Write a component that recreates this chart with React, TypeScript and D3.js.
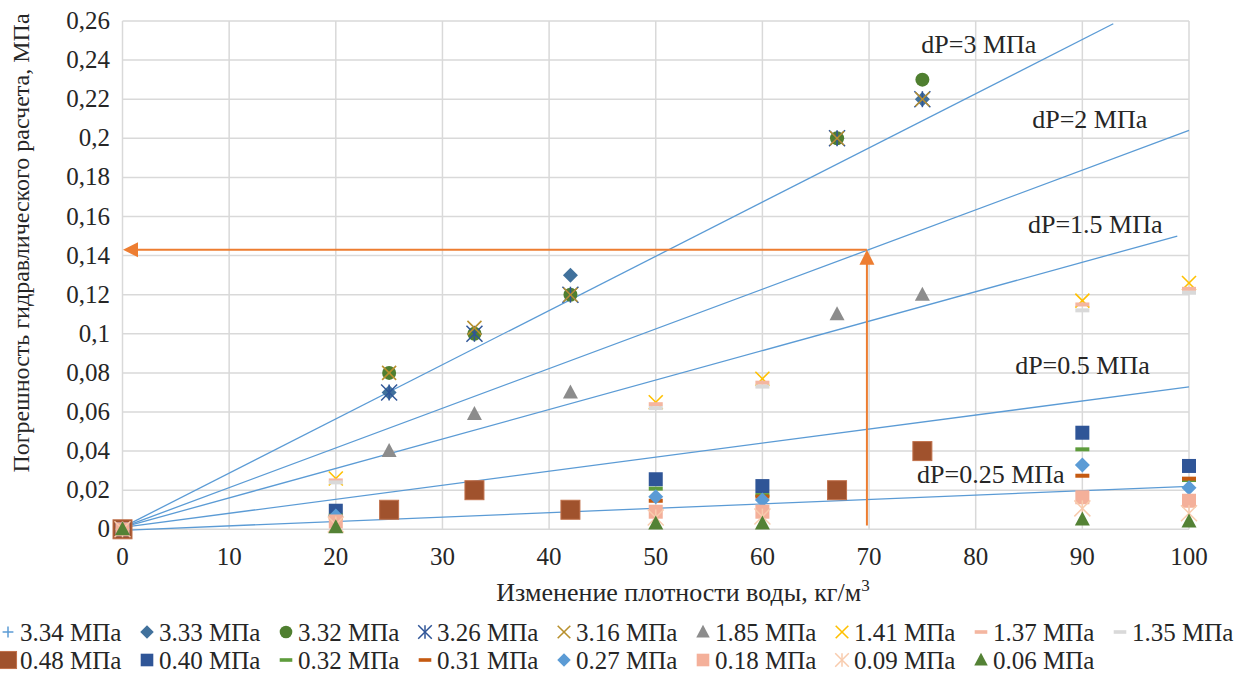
import React from 'react';
import * as d3 from 'd3';

// ---------- data ----------
const xTicks = [0, 10, 20, 30, 40, 50, 60, 70, 80, 90, 100];
const yTicks = [0, 0.02, 0.04, 0.06, 0.08, 0.1, 0.12, 0.14, 0.16, 0.18, 0.2, 0.22, 0.24, 0.26];
const yTickLabels = ['0', '0,02', '0,04', '0,06', '0,08', '0,1', '0,12', '0,14', '0,16', '0,18', '0,2', '0,22', '0,24', '0,26'];

// densities for high-pressure group
const xsA = [0, 25, 33, 42, 67, 75];
// densities for low-pressure group
const xsB = [0, 20, 50, 60, 90, 100];

const s334 = [0, 0.07, 0.1, 0.12, 0.2, 0.22];
const s333 = [0, 0.07, 0.1, 0.13, 0.2, 0.22];
const s332 = [0, 0.08, 0.1, 0.12, 0.2, 0.23];
const s326 = [0, 0.07, 0.1, 0.12, 0.2, 0.22];
const s316 = [0, 0.08, 0.103, 0.12, 0.2, 0.22];
const s185 = [0, 0.04, 0.059, 0.07, 0.11, 0.12];
const s141 = [0, 0.026, 0.065, 0.077, 0.117, 0.126];
const s137 = [0, 0.025, 0.064, 0.075, 0.115, 0.123];
const s135 = [0, 0.024, 0.062, 0.073, 0.112, 0.121];
const s048 = [0, 0.01, 0.02, 0.01, 0.02, 0.04];
const s040 = [0, 0.0095, 0.0256, 0.0221, 0.0494, 0.0324];
const s032 = [0, 0.007, 0.0208, 0.0175, 0.0409, 0.0252];
const s031 = [0, 0.006, 0.0146, 0.0167, 0.0274, 0.0259];
const s027 = [0, 0.0068, 0.0167, 0.015, 0.0329, 0.0213];
const s018 = [0, 0.004, 0.009, 0.009, 0.0164, 0.0146];
const s009 = [0, 0.0025, 0.006, 0.0065, 0.0107, 0.0082];
const s006 = [0, 0.001, 0.003, 0.003, 0.005, 0.004];

const seriesNames = ['3.34 МПа', '3.33 МПа', '3.32 МПа', '3.26 МПа', '3.16 МПа', '1.85 МПа', '1.41 МПа', '1.37 МПа', '1.35 МПа',
  '0.48 МПа', '0.40 МПа', '0.32 МПа', '0.31 МПа', '0.27 МПа', '0.18 МПа', '0.09 МПа', '0.06 МПа'];
const seriesX = [xsA, xsA, xsA, xsA, xsA, xsA, xsB, xsB, xsB, xsA, xsB, xsB, xsB, xsB, xsB, xsB, xsB];
const seriesY = [s334, s333, s332, s326, s316, s185, s141, s137, s135, s048, s040, s032, s031, s027, s018, s009, s006];
const seriesShape = ['plus', 'diamond', 'circle', 'star', 'x', 'triangle', 'x', 'dash', 'dash',
  'bigsquare', 'square', 'dash', 'dash', 'diamond', 'square', 'star', 'triangle'];
const seriesColor = ['#5B9BD5', '#41719C', '#4F7F30', '#2F5597', '#B8902E', '#8C8C8C', '#FFC000', '#F4B6A0', '#D9D9D9',
  '#A0522D', '#2F5597', '#5E9C3C', '#C55A11', '#5B9BD5', '#F4B09A', '#F8CBAD', '#548235'];

// trend lines (start / end in data units)
const trendNames = ['dP=3 МПа', 'dP=2 МПа', 'dP=1.5 МПа', 'dP=0.5 МПа', 'dP=0.25 МПа'];
const trendX0 = [0, 0, 0, 0, 0];
const trendY0 = [0.001, 0.001, 0.001, 0.001, -0.0005];
const trendX1 = [92.9, 100, 98.9, 100, 100];
const trendY1 = [0.2586, 0.204, 0.150, 0.0728, 0.022];
// label anchors (data units: left x, baseline y)
const labelX = [74.9, 85.3, 84.9, 83.7, 74.5];
const labelY = [0.2437, 0.2055, 0.1515, 0.0795, 0.0236];

// orange reading arrows
const arrowX = 69.8;
const arrowY = 0.143;
const arrowYStart = 0.002;

const x = d3.scaleLinear().domain([0, 100]).range([122.5, 1189]);
const y = d3.scaleLinear().domain([0, 0.26]).range([529.3, 21]);

const FONT = "'Liberation Serif', 'DejaVu Serif', serif";

function Marker({ shape, color, cx, cy, s = 1 }: { shape: string; color: string; cx: number; cy: number; s?: number }) {
  const r = 7 * s;
  switch (shape) {
    case 'plus':
      return (
        <g stroke={color} strokeWidth={1.5}>
          <line x1={cx - 6 * s} x2={cx + 6 * s} y1={cy} y2={cy} />
          <line x1={cx} x2={cx} y1={cy - 6 * s} y2={cy + 6 * s} />
        </g>
      );
    case 'diamond':
      return <path d={`M${cx},${cy - 7.5 * s}L${cx + 7.5 * s},${cy}L${cx},${cy + 7.5 * s}L${cx - 7.5 * s},${cy}Z`} fill={color} />;
    case 'circle':
      return <circle cx={cx} cy={cy} r={r} fill={color} />;
    case 'star':
      return (
        <g stroke={color} strokeWidth={1.5}>
          <line x1={cx - 8 * s} x2={cx + 8 * s} y1={cy - 8 * s} y2={cy + 8 * s} />
          <line x1={cx - 8 * s} x2={cx + 8 * s} y1={cy + 8 * s} y2={cy - 8 * s} />
          <line x1={cx} x2={cx} y1={cy - 8 * s} y2={cy + 8 * s} />
        </g>
      );
    case 'x':
      return (
        <g stroke={color} strokeWidth={1.6}>
          <line x1={cx - 7 * s} x2={cx + 7 * s} y1={cy - 7 * s} y2={cy + 7 * s} />
          <line x1={cx - 7 * s} x2={cx + 7 * s} y1={cy + 7 * s} y2={cy - 7 * s} />
        </g>
      );
    case 'triangle':
      return <path d={`M${cx},${cy - 8 * s}L${cx + 7.5 * s},${cy + 6 * s}L${cx - 7.5 * s},${cy + 6 * s}Z`} fill={color} />;
    case 'dash':
      return <rect x={cx - 7 * s} y={cy - 2 * s} width={14 * s} height={4 * s} fill={color} />;
    case 'square':
      return <rect x={cx - 7 * s} y={cy - 7 * s} width={14 * s} height={14 * s} fill={color} />;
    case 'bigsquare':
      return <rect x={cx - 9.5 * s} y={cy - 9.5 * s} width={19 * s} height={19 * s} fill={color} stroke="#C0704A" strokeWidth={1} />;
    default:
      return null;
  }
}

function shapeLegendScale(shape: string) {
  if (shape === 'bigsquare') return 0.9;
  if (shape === 'star') return 0.85;
  return 0.9;
}

export default function App() {
  const gridColor = '#D9D9D9';
  const trendColor = '#5B9BD5';
  const orange = '#ED7D31';
  const ax = x(arrowX);
  const ay = y(arrowY);
  const legendCol = 139;
  const legendRows = [632, 660];
  const tf = { fontFamily: FONT };

  return (
    <svg width={1237} height={673} style={{ position: 'absolute', left: 0, top: 0, display: 'block', background: '#fff' }}>
      {/* grid */}
      {yTicks.map((t) => (
        <line key={'gy' + t} x1={x(0)} x2={x(100)} y1={y(t)} y2={y(t)} stroke={gridColor} strokeWidth={1.5} />
      ))}
      {xTicks.map((t) => (
        <line key={'gx' + t} x1={x(t)} x2={x(t)} y1={y(0)} y2={y(0.26)} stroke={gridColor} strokeWidth={1.5} />
      ))}

      {/* tick labels */}
      {yTicks.map((t, i) => (
        <text key={'ly' + t} x={110} y={y(t) + 8} textAnchor="end" fontSize={25} fill="#262626" style={tf}>{yTickLabels[i]}</text>
      ))}
      {xTicks.map((t) => (
        <text key={'lx' + t} x={x(t)} y={565} textAnchor="middle" fontSize={25} fill="#262626" style={tf}>{t}</text>
      ))}

      {/* axis titles */}
      <text x={683} y={601} textAnchor="middle" fontSize={26} fill="#262626" style={tf}>
        Изменение плотности воды, кг/м<tspan dy={-10} fontSize={17}>3</tspan>
      </text>
      <text transform="translate(29,243) rotate(-90)" textAnchor="middle" fontSize={24} fill="#262626" style={tf}>
        Погрешность гидравлического расчета, МПа
      </text>

      {/* trend lines */}
      {trendNames.map((n, i) => (
        <line key={'t' + n} x1={x(trendX0[i])} y1={y(trendY0[i])} x2={x(trendX1[i])} y2={y(trendY1[i])}
          stroke={trendColor} strokeWidth={1.3} />
      ))}

      {/* series markers */}
      {seriesNames.map((n, si) => (
        <g key={'s' + n}>
          {seriesY[si].map((v, j) => (
            <Marker key={j} shape={seriesShape[si]} color={seriesColor[si]} cx={x(seriesX[si][j])} cy={y(v)} />
          ))}
        </g>
      ))}

      {/* trend labels */}
      {trendNames.map((n, i) => (
        <text key={'tl' + n} x={x(labelX[i])} y={y(labelY[i])} fontSize={26} fill="#262626" style={tf}>{n}</text>
      ))}

      {/* orange arrows */}
      <line x1={ax} x2={x(0) + 14} y1={ay} y2={ay} stroke={orange} strokeWidth={2} />
      <path d={`M${x(0) + 0.5},${ay}L${x(0) + 15.5},${ay - 7.5}L${x(0) + 15.5},${ay + 7.5}Z`} fill={orange} />
      <line x1={ax} x2={ax} y1={y(arrowYStart)} y2={ay + 14} stroke={orange} strokeWidth={2} />
      <path d={`M${ax},${ay}L${ax + 7.5},${ay + 15}L${ax - 7.5},${ay + 15}Z`} fill={orange} />

      {/* legend */}
      {seriesNames.map((n, i) => {
        const row = i < 9 ? 0 : 1;
        const col = i < 9 ? i : i - 9;
        const cx = col * legendCol + 8;
        const cy = legendRows[row];
        return (
          <g key={'lg' + n}>
            <Marker shape={seriesShape[i]} color={seriesColor[i]} cx={cx} cy={cy} s={shapeLegendScale(seriesShape[i])} />
            <text x={cx + 12} y={cy + 8.5} fontSize={25} fill="#262626" style={tf}>{n}</text>
          </g>
        );
      })}
    </svg>
  );
}
